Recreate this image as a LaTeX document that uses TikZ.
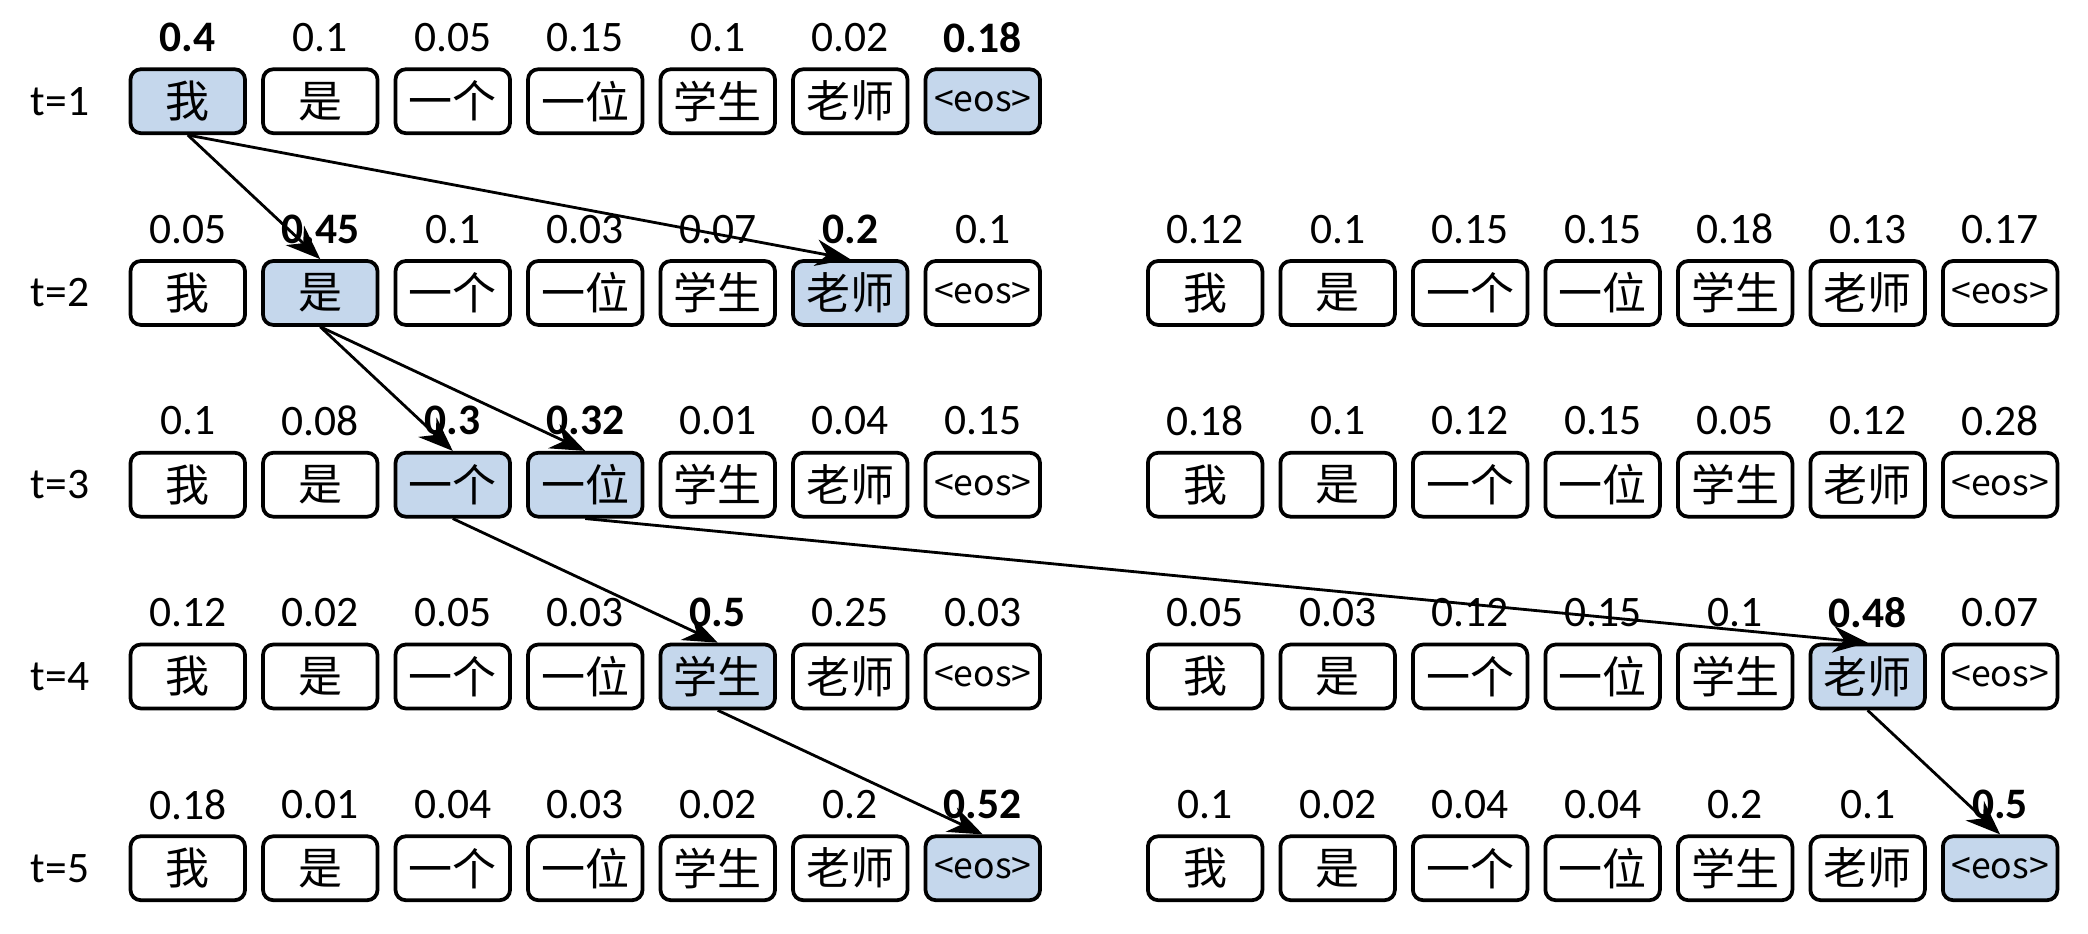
\documentclass[tikz,border=0pt]{standalone}
\usepackage{fontspec}
\setmainfont{Carlito}
\newfontfamily\cjk{Noto Sans CJK SC}
\usetikzlibrary{arrows.meta}
\definecolor{hlc}{HTML}{C5D7EC}
\newcommand\mywd[1]{\ifcase#1\or 我\or 是\or 一个\or 一位\or 学生\or 老师\or {\fontsize{7.6}{9}\selectfont <eos>}\fi}
\tikzset{
 w/.style={draw,line width=0.8pt,rounded corners=2.2pt,minimum width=0.86cm,minimum height=0.48cm,inner sep=0pt,font=\cjk\fontsize{9.4}{11}\selectfont},
 hl/.style={w,fill=hlc},
 pr/.style={font=\fontsize{9.3}{11}\selectfont,inner sep=0pt},
 arr/.style={-{Stealth[length=2.6mm,width=2mm]},line width=0.6pt}
}
\newcommand\myrow[4]{% side, row, x0, list
 \foreach \p/\st [count=\i] in {#4}{
  \node[\st] (#1#2-\i) at ({#3+(\i-1)*0.995},{-0.76-(#2-1)*1.44}) {\mywd{\i}};
  \node[pr] at ({#3+(\i-1)*0.995},{-0.28-(#2-1)*1.44}) {\p};
 }}
\begin{document}
\begin{tikzpicture}
\useasboundingbox (0,0) rectangle (15.68,-7.01);
\foreach \r in {1,...,5}{\node[pr] at (0.45,{-0.76-(\r-1)*1.44}) {t=\r};}
\myrow{L}{1}{1.41}{{\textbf{0.4}}/hl,0.1/w,0.05/w,0.15/w,0.1/w,0.02/w,{\textbf{0.18}}/hl}
\myrow{L}{2}{1.41}{0.05/w,{\textbf{0.45}}/hl,0.1/w,0.03/w,0.07/w,{\textbf{0.2}}/hl,0.1/w}
\myrow{R}{2}{9.05}{0.12/w,0.1/w,0.15/w,0.15/w,0.18/w,0.13/w,0.17/w}
\myrow{L}{3}{1.41}{0.1/w,0.08/w,{\textbf{0.3}}/hl,{\textbf{0.32}}/hl,0.01/w,0.04/w,0.15/w}
\myrow{R}{3}{9.05}{0.18/w,0.1/w,0.12/w,0.15/w,0.05/w,0.12/w,0.28/w}
\myrow{L}{4}{1.41}{0.12/w,0.02/w,0.05/w,0.03/w,{\textbf{0.5}}/hl,0.25/w,0.03/w}
\myrow{R}{4}{9.05}{0.05/w,0.03/w,0.12/w,0.15/w,0.1/w,{\textbf{0.48}}/hl,0.07/w}
\myrow{L}{5}{1.41}{0.18/w,0.01/w,0.04/w,0.03/w,0.02/w,0.2/w,{\textbf{0.52}}/hl}
\myrow{R}{5}{9.05}{0.1/w,0.02/w,0.04/w,0.04/w,0.2/w,0.1/w,{\textbf{0.5}}/hl}
\draw[arr] (L1-1.south) -- (L2-2.north);
\draw[arr] (L1-1.south) -- (L2-6.north);
\draw[arr] (L2-2.south) -- (L3-3.north);
\draw[arr] (L2-2.south) -- (L3-4.north);
\draw[arr] (L3-3.south) -- (L4-5.north);
\draw[arr] (L3-4.south) -- (R4-6.north);
\draw[arr] (L4-5.south) -- (L5-7.north);
\draw[arr] (R4-6.south) -- (R5-7.north);
\end{tikzpicture}
\end{document}
